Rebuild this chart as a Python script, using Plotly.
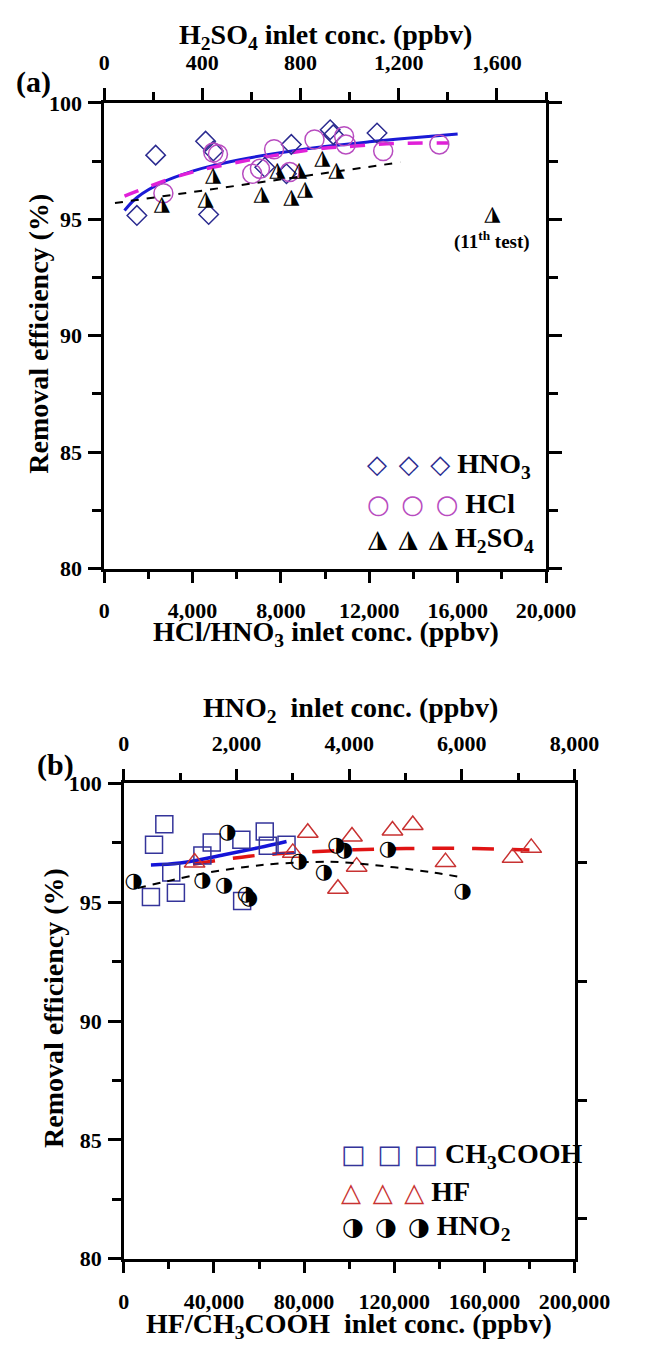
import plotly.graph_objects as go

# ---------------- Panel (a) data ----------------
hno3_x = [1480, 2330, 4590, 4730, 4940, 7270, 8250, 8470, 10230, 10370, 12350]
hno3_y = [95.17, 97.76, 98.36, 95.21, 97.94, 97.24, 96.96, 98.22, 98.85, 98.64, 98.71]

hcl_x = [2680, 4940, 5150, 6700, 7050, 7690, 8400, 9520, 10860, 10940, 12630, 15170]
hcl_y = [96.12, 97.87, 97.80, 96.96, 97.17, 98.01, 97.03, 98.43, 98.57, 98.22, 97.94, 98.22]

h2so4_x = [235, 413, 444, 641, 705, 762, 794, 819, 889, 946]
h2so4_y = [95.63, 95.84, 96.89, 96.05, 97.10, 95.91, 97.10, 96.26, 97.59, 97.10]
h2so4_11th_x = [1581]
h2so4_11th_y = [95.21]

hno3_fit_x = [920, 1500, 2750, 4000, 5000, 6500, 8500, 10500, 12000, 14000, 16000]
hno3_fit_y = [95.38, 95.95, 96.64, 97.07, 97.33, 97.63, 97.94, 98.18, 98.33, 98.51, 98.67]

hcl_fit_x = [920, 1340, 3320, 5430, 9520, 11360, 13190, 15600]
hcl_fit_y = [96.00, 96.16, 96.85, 97.34, 98.01, 98.15, 98.26, 98.28]

h2so4_fit_x = [44, 400, 800, 1206]
h2so4_fit_y = [95.70, 96.24, 96.84, 97.45]

# ---------------- Panel (b) data ----------------
ch3cooh_x = [17970, 13400, 21040, 12030, 23110, 34860, 39000, 52160, 62530, 63900, 72200, 52500]
ch3cooh_y = [98.28, 97.42, 96.25, 95.22, 95.40, 96.97, 97.52, 97.63, 97.98, 97.38, 97.42, 95.05]

hf_x = [31410, 74980, 81620, 101250, 103320, 95020, 119210, 128220, 142740, 172490, 180790]
hf_y = [96.67, 97.08, 97.93, 97.77, 96.50, 95.57, 98.02, 98.25, 96.69, 96.87, 97.29]

hno2_x = [177, 1394, 1781, 1837, 2169, 2224, 3109, 3552, 3773, 3912, 4687, 6014]
hno2_y = [95.87, 95.91, 95.70, 97.91, 95.32, 95.15, 96.69, 96.25, 97.36, 97.15, 97.22, 95.43]

ch3cooh_fit_x = [12030, 25000, 44500, 60000, 72200]
ch3cooh_fit_y = [96.57, 96.65, 97.00, 97.30, 97.56]

hf_fit_x = [30700, 55600, 75000, 95000, 112300, 135800, 155900, 180000]
hf_fit_y = [96.60, 96.94, 97.08, 97.18, 97.24, 97.27, 97.26, 97.20]

hno2_fit_x = [250, 800, 1500, 2200, 2700, 3400, 3900, 4800, 5500, 6000]
hno2_fit_y = [95.60, 95.90, 96.25, 96.50, 96.62, 96.70, 96.68, 96.47, 96.25, 96.05]

# ---------------- styling ----------------
W, H = 647, 1355
SERIF = "Liberation Serif"
SYM = "DejaVu Sans"
AX_W = 2.5

def px_x(p):
    return p / W

def px_y(p):
    return 1 - p / H

A_X = [105, 577.5]
A_Y = [92.7, 567]
B_X = [126, 608]
B_Y = [786, 1270]

fig = go.Figure()

# panel (a) fits
fig.add_trace(go.Scatter(x=hno3_fit_x, y=hno3_fit_y, mode="lines", line=dict(color="#1a1ad6", width=3, shape="spline"),
                         xaxis="x", yaxis="y", showlegend=False))
fig.add_trace(go.Scatter(x=hcl_fit_x, y=hcl_fit_y, mode="lines", line=dict(color="#e020d8", width=3.5, dash="15px,14px", shape="spline"),
                         xaxis="x", yaxis="y", showlegend=False))
fig.add_trace(go.Scatter(x=h2so4_fit_x, y=h2so4_fit_y, mode="lines", line=dict(color="black", width=2, dash="8px,8px"),
                         xaxis="x2", yaxis="y", showlegend=False))
# panel (a) points
fig.add_trace(go.Scatter(x=hno3_x, y=hno3_y, mode="markers",
                         marker=dict(symbol="diamond-open", size=15, color="#2b2b90", line=dict(width=1.5)),
                         xaxis="x", yaxis="y", showlegend=False))
fig.add_trace(go.Scatter(x=hcl_x, y=hcl_y, mode="markers",
                         marker=dict(symbol="circle-open", size=19, color="#b84cc0", line=dict(width=1.5)),
                         xaxis="x", yaxis="y", showlegend=False))
fig.add_trace(go.Scatter(x=h2so4_x + h2so4_11th_x, y=h2so4_y + h2so4_11th_y, mode="text",
                         text=["\u25ee"] * (len(h2so4_x) + 1), textposition="middle center",
                         textfont=dict(family=SYM, size=21, color="black"),
                         xaxis="x2", yaxis="y", showlegend=False))

# panel (b) fits
fig.add_trace(go.Scatter(x=ch3cooh_fit_x, y=ch3cooh_fit_y, mode="lines", line=dict(color="#1414d8", width=3.5, shape="spline"),
                         xaxis="x3", yaxis="y3", showlegend=False))
fig.add_trace(go.Scatter(x=hf_fit_x, y=hf_fit_y, mode="lines", line=dict(color="#e01414", width=3.5, dash="22px,18px", shape="spline"),
                         xaxis="x3", yaxis="y3", showlegend=False))
fig.add_trace(go.Scatter(x=hno2_fit_x, y=hno2_fit_y, mode="lines", line=dict(color="black", width=2, dash="8px,7px", shape="spline"),
                         xaxis="x4", yaxis="y3", showlegend=False))
# panel (b) points
fig.add_trace(go.Scatter(x=ch3cooh_x, y=ch3cooh_y, mode="markers",
                         marker=dict(symbol="square-open", size=17, color="#34349a", line=dict(width=1.5)),
                         xaxis="x3", yaxis="y3", showlegend=False))
fig.add_trace(go.Scatter(x=hf_x, y=hf_y, mode="markers",
                         marker=dict(symbol="triangle-up-open", size=18, color="#c83232", line=dict(width=1.5)),
                         xaxis="x3", yaxis="y3", showlegend=False))
fig.add_trace(go.Scatter(x=hno2_x, y=hno2_y, mode="text",
                         text=["\u25d1"] * len(hno2_x), textposition="middle center",
                         textfont=dict(family=SYM, size=21, color="black"),
                         xaxis="x4", yaxis="y3", showlegend=False))
# empty trace so that the right-hand tick axis of panel (b) is drawn
fig.add_trace(go.Scatter(x=[], y=[], mode="markers", xaxis="x3", yaxis="y4", showlegend=False, hoverinfo="skip"))

tickfont = dict(family=SERIF, size=22, color="black", weight="bold")

def xax(dom, rng, dt, mdt, side="bottom", anchor=None, overlaying=None, standoff=8):
    d = dict(range=rng, dtick=dt, tick0=0, tickformat=",d", showgrid=False, zeroline=False,
             showline=True, linecolor="black", linewidth=AX_W, ticks="outside", ticklen=12,
             tickwidth=AX_W, tickcolor="black", tickfont=tickfont, side=side, ticklabelstandoff=standoff,
             minor=dict(dtick=mdt, tick0=0, ticks="outside", ticklen=8, tickwidth=AX_W, tickcolor="black", showgrid=False))
    if overlaying:
        d["overlaying"] = overlaying
    else:
        d["domain"] = dom
    if anchor:
        d["anchor"] = anchor
    return d

def yax(dom, anchor, mirror):
    return dict(domain=dom, anchor=anchor, range=[80, 100], dtick=5, tick0=80, showgrid=False, zeroline=False,
                showline=True, linecolor="black", linewidth=AX_W, ticks="outside", ticklen=13,
                tickwidth=AX_W, tickcolor="black", tickfont=tickfont, mirror=mirror, ticklabelstandoff=2,
                minor=dict(dtick=2.5, tick0=80, ticks="outside", ticklen=9, tickwidth=AX_W, tickcolor="black", showgrid=False))

fig.update_layout(
    width=W, height=H, margin=dict(l=0, r=0, t=0, b=0),
    paper_bgcolor="white", plot_bgcolor="white", showlegend=False,
    xaxis=xax([px_x(A_X[0]), px_x(A_X[1])], [0, 20000], 4000, 2000, anchor="y"),
    xaxis2=xax(None, [0, 1800], 400, 200, side="top", anchor="y", overlaying="x", standoff=9),
    yaxis=yax([px_y(A_Y[1]), px_y(A_Y[0])], "x", "ticks"),
    xaxis3=xax([px_x(B_X[0]), px_x(B_X[1])], [0, 200000], 40000, 20000, anchor="y3", standoff=9),
    xaxis4=xax(None, [0, 8000], 2000, 1000, side="top", anchor="y3", overlaying="x3", standoff=9),
    yaxis3=yax([px_y(B_Y[1]), px_y(B_Y[0])], "x3", True),
    # right-hand tick axis of panel (b): its ticks are offset from the left axis
    yaxis4=dict(overlaying="y3", anchor="x3", side="right", range=[83.33, 103.33], dtick=5, tick0=0,
                showgrid=False, zeroline=False, showline=False, showticklabels=False,
                ticks="outside", ticklen=11, tickwidth=AX_W, tickcolor="black"),
)

titlefont = dict(family=SERIF, size=28, color="black", weight="bold")
ann = []

def a(x, y, text, font, xanchor="center", yanchor="middle", angle=0):
    ann.append(dict(x=px_x(x), y=px_y(y), xref="paper", yref="paper", text=text, showarrow=False,
                    font=font, xanchor=xanchor, yanchor=yanchor, textangle=angle))

# panel (a) texts
a(342, 25, "H<sub>2</sub>SO<sub>4</sub> inlet conc. (ppbv)", titlefont)
a(342, 633, "HCl/HNO<sub>3</sub> inlet conc. (ppbv)", titlefont)
a(35, 328, "Removal efficiency (%)", titlefont, angle=-90)
a(9, 71, "(a)", dict(family=SERIF, size=30, color="black", weight="bold"), xanchor="left")
a(520, 233, "(11<sup>th</sup> test)", dict(family=SERIF, size=19, color="black", weight="bold"))

# panel (b) texts
a(368, 711, "HNO<sub>2</sub>\u00a0 inlet conc. (ppbv)", titlefont)
a(367, 1338, "HF/CH<sub>3</sub>COOH\u00a0 inlet conc. (ppbv)", titlefont)
a(51, 1015, "Removal efficiency (%)", titlefont, angle=-90)
a(31, 767, "(b)", dict(family=SERIF, size=30, color="black", weight="bold"), xanchor="left")

# legends
legfont = dict(family=SERIF, size=28, color="black", weight="bold")

def leg_row(xs, y, glyph, color, label, gsize):
    sym = "<span style=\"color:%s;font-family:'DejaVu Sans';font-size:%dpx\">%s</span>" % (
        color, gsize, "\u00a0\u200a".join([glyph] * 3))
    a(xs, y, sym + "\u00a0" + label, legfont, xanchor="left")

leg_row(384, 462, "\u25c7", "#2b2b90", "HNO<sub>3</sub>", 26)
leg_row(384, 501, "\u25cb", "#b84cc0", "HCl", 26)
leg_row(385, 537, "\u25ee", "black", "H<sub>2</sub>SO<sub>4</sub>", 25)

leg_row(356, 1165, "\u25a1", "#34349a", "CH<sub>3</sub>COOH", 26)
leg_row(356, 1202, "\u25b3", "#c83232", "HF", 26)
leg_row(357, 1238, "\u25d1", "black", "HNO<sub>2</sub>", 25)

fig.update_layout(annotations=ann)

fig.write_html("out.html", config={"displayModeBar": False},
               post_script="document.body.style.margin='0px';")
